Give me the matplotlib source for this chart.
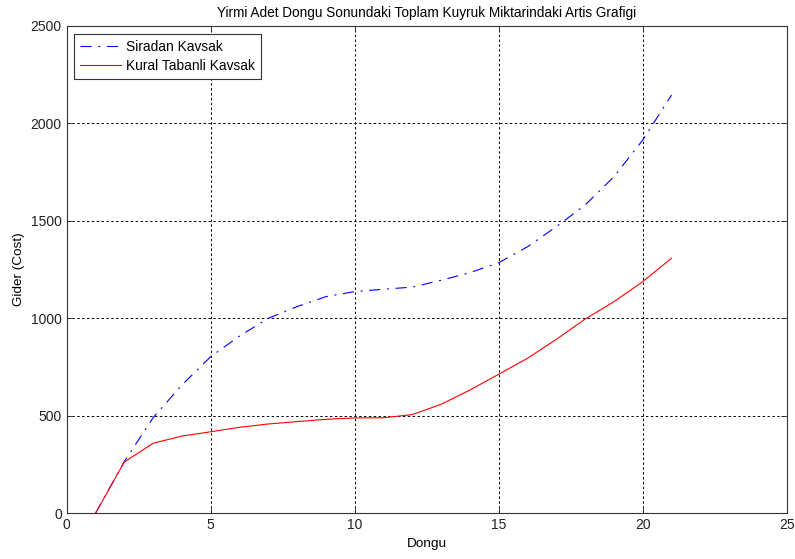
import matplotlib
matplotlib.use("Agg")
import matplotlib.pyplot as plt

x = list(range(1, 22))
siradan = [0, 265, 490, 658, 803, 909, 1000, 1060, 1111, 1137, 1149, 1160, 1195,
           1234, 1285, 1367, 1470, 1581, 1726, 1914, 2145]
kural = [0, 263, 359, 396, 418, 441, 458, 470, 482, 489, 490, 506, 559,
         632, 713, 795, 892, 996, 1085, 1188, 1308]

plt.rcParams['font.family'] = ['Liberation Sans', 'DejaVu Sans']
fig = plt.figure(figsize=(7.95, 5.59), dpi=100)
ax = fig.add_axes([0.0839, 0.0818, 0.9057, 0.872])
ax.plot(x, siradan, color='#0000ff', linestyle=(0, (10, 6, 1.8, 6)), linewidth=0.8, label='Siradan Kavsak')
ax.plot(x, kural, color='#ff0000', linestyle='-', linewidth=0.8, label='Kural Tabanli Kavsak')
ax.set_xlim(0, 25)
ax.set_ylim(0, 2500)
ax.set_xticks([0, 5, 10, 15, 20, 25])
ax.set_yticks([0, 500, 1000, 1500, 2000, 2500])
ax.grid(True, color='black', linestyle=(0, (2.5, 2.5)), linewidth=0.7)
ax.tick_params(direction='in', top=True, right=True, labelsize=10, length=4, width=0.6, colors='#222222')
for s in ax.spines.values():
    s.set_linewidth(0.8)
    s.set_color('#333333')
ax.set_title('Yirmi Adet Dongu Sonundaki Toplam Kuyruk Miktarindaki Artis Grafigi', fontsize=9.8, pad=6)
ax.set_xlabel('Dongu', fontsize=9.7, labelpad=4)
ax.set_ylabel('Gider (Cost)', fontsize=9.7, labelpad=4)
leg = ax.legend(loc='upper left', bbox_to_anchor=(0.0101, 0.9826), borderaxespad=0,
                prop={'size': 9.9}, fancybox=False, edgecolor='#333333',
                framealpha=1, handlelength=3.0, handletextpad=0.4,
                borderpad=0.42, labelspacing=0.35)
leg.get_frame().set_linewidth(0.8)
fig.savefig('out.png', dpi=100)
